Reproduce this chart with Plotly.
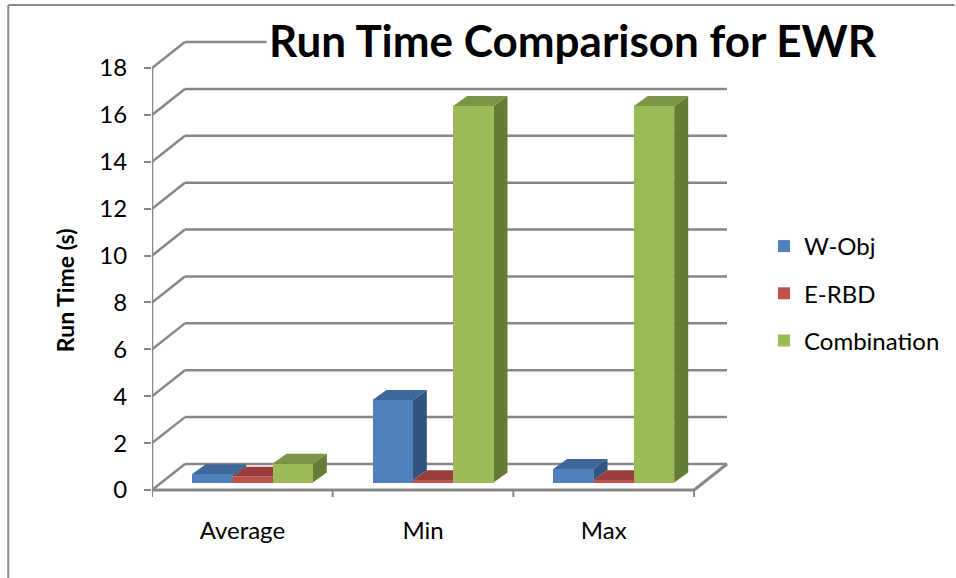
import plotly.graph_objects as go

# ---- data -------------------------------------------------------------
categories = ["Average", "Min", "Max"]
series_names = ["W-Obj", "E-RBD", "Combination"]
w_obj = [0.35, 3.52, 0.58]
e_rbd = [0.25, 0.10, 0.10]
combination = [0.80, 16.06, 16.06]
y_ticks = [0, 2, 4, 6, 8, 10, 12, 14, 16, 18]

series_values = [w_obj, e_rbd, combination]
front_colors = ["#4F81BD", "#C0504D", "#9BBB59"]
top_colors = ["#3D679A", "#9A3C3A", "#7A9545"]
side_colors = ["#32557F", "#7D302E", "#657C35"]

# ---- page / plot-area geometry (pixels) ------------------------------
FIG_W, FIG_H = 956, 578
PLOT_L, PLOT_T, PLOT_W, PLOT_H = 152, 30, 590, 470
PX_PER_CAT = 181.0          # horizontal pixels per category
PX_PER_UNIT = 23.44         # vertical pixels per second
FRONT_ZERO_PX = 490         # pixel row of the value 0 on the front plane

x_range = [-0.5, -0.5 + PLOT_W / PX_PER_CAT]
y_range = [-(PLOT_T + PLOT_H - FRONT_ZERO_PX) / PX_PER_UNIT,
           (FRONT_ZERO_PX - PLOT_T) / PX_PER_UNIT]

# oblique projection offsets (data units)
WALL_DX, WALL_DY = 33 / PX_PER_CAT, 26 / PX_PER_UNIT       # full chart depth
BAR_FX, BAR_FY = 10 / PX_PER_CAT, 7.5 / PX_PER_UNIT        # bar front face depth
BAR_DX, BAR_DY = 14 / PX_PER_CAT, 10 / PX_PER_UNIT         # bar thickness in depth
BAR_W = 40.4 / PX_PER_CAT

GRID = "#878787"
n_cat = len(categories)
x_left, x_right = -0.5, n_cat - 0.5

shapes = []


def seg(x0, y0, x1, y1, width=2.5, color=GRID):
    shapes.append(dict(type="line", xref="x", yref="y", x0=x0, y0=y0, x1=x1, y1=y1,
                       line=dict(color=color, width=width), layer="below"))


def poly(pts, color):
    path = "M " + " L ".join(f"{x},{y}" for x, y in pts) + " Z"
    shapes.append(dict(type="path", xref="x", yref="y", path=path,
                       fillcolor=color, line=dict(width=0), layer="below"))


# back wall gridlines and side wall diagonals
top_val = y_ticks[-1]
for v in y_ticks:
    seg(x_left + WALL_DX, v + WALL_DY, x_right + WALL_DX, v + WALL_DY)
    seg(x_left, v, x_left + WALL_DX, v + WALL_DY)

# front vertical axis line
seg(x_left, 0, x_left, top_val, width=2.5)

# floor front and right edges
seg(x_left, 0, x_right, 0, width=3)
seg(x_right, 0, x_right + WALL_DX, WALL_DY, width=3)

# category boundary ticks
for i in range(n_cat + 1):
    seg(x_left + i, 0, x_left + i, -0.3, width=2)

# bar centres on the front plane
n_ser = len(series_values)
centers = [[c + (k - (n_ser - 1) / 2) * BAR_W + BAR_FX for c in range(n_cat)]
           for k in range(n_ser)]

# side and top faces of each bar (front faces are drawn by the bar traces)
for c in range(n_cat):
    for k in range(n_ser):
        v = series_values[k][c]
        x0 = centers[k][c] - BAR_W / 2
        x1 = centers[k][c] + BAR_W / 2
        base = BAR_FY
        top = base + v
        # visible part of the right side face: above the neighbouring bar
        nxt = series_values[k + 1][c] if k + 1 < n_ser else 0.0
        if v > nxt:
            lo = base + nxt
            poly([(x1, lo), (x1 + BAR_DX, lo + BAR_DY),
                  (x1 + BAR_DX, top + BAR_DY), (x1, top)], side_colors[k])
        poly([(x0, top), (x1, top), (x1 + BAR_DX, top + BAR_DY),
              (x0 + BAR_DX, top + BAR_DY)], top_colors[k])

# outer chart frame (left and top edges)
fx0 = (8 - PLOT_L) / PLOT_W
fy_top = (PLOT_T + PLOT_H - 5) / PLOT_H
fy_bot = (PLOT_T + PLOT_H - FIG_H) / PLOT_H
shapes.append(dict(type="line", xref="paper", yref="paper", x0=fx0, x1=fx0,
                   y0=fy_bot, y1=fy_top, line=dict(color="#8C8C8C", width=2)))
shapes.append(dict(type="line", xref="paper", yref="paper", x0=fx0,
                   x1=(FIG_W - PLOT_L) / PLOT_W, y0=fy_top, y1=fy_top,
                   line=dict(color="#8C8C8C", width=2)))

fig = go.Figure()
for k in range(n_ser):
    fig.add_trace(go.Bar(
        x=centers[k], y=series_values[k], base=[BAR_FY] * n_cat,
        width=BAR_W, name=series_names[k], legendgroup=series_names[k],
        marker=dict(color=front_colors[k], line=dict(width=0)),
        hoverinfo="skip",
    ))

FONT = "Lato"
TXT = 24

fig.update_layout(
    width=FIG_W, height=FIG_H,
    margin=dict(l=PLOT_L, t=PLOT_T, r=FIG_W - PLOT_L - PLOT_W, b=FIG_H - PLOT_T - PLOT_H),
    paper_bgcolor="white", plot_bgcolor="white",
    barmode="overlay", bargap=0,
    font=dict(family=FONT, color="#000000", size=TXT),
    shapes=shapes,
    showlegend=True,
    legend=dict(x=(764 - PLOT_L) / PLOT_W, y=(PLOT_T + PLOT_H - 224) / PLOT_H,
                xanchor="left", yanchor="top", font=dict(size=TXT, family=FONT),
                tracegroupgap=13, bgcolor="rgba(0,0,0,0)"),
    xaxis=dict(range=x_range, showgrid=False, zeroline=False, showline=False,
               tickmode="array", tickvals=list(range(n_cat)), ticktext=categories,
               ticks="outside", ticklen=9, tickcolor="rgba(0,0,0,0)",
               tickfont=dict(size=TXT, family=FONT), fixedrange=True),
    yaxis=dict(range=y_range, showgrid=False, zeroline=False, showline=False,
               tickmode="array", tickvals=y_ticks, ticktext=[str(t) for t in y_ticks],
               ticks="outside", ticklen=7, tickwidth=2, tickcolor=GRID,
               ticklabelstandoff=12,
               tickfont=dict(size=TXT, family=FONT), fixedrange=True),
    annotations=[
        dict(text="<b>Run Time Comparison for EWR</b>", xref="paper", yref="paper",
             x=(266 - PLOT_L) / PLOT_W, y=(PLOT_T + PLOT_H - 40) / PLOT_H,
             xanchor="left", yanchor="middle", showarrow=False,
             font=dict(size=44, family=FONT, color="#000000"),
             bgcolor="white", borderpad=2),
        dict(text="<b>Run Time (s)</b>", xref="paper", yref="paper",
             x=(65 - PLOT_L) / PLOT_W, y=(PLOT_T + PLOT_H - 290) / PLOT_H,
             xanchor="center", yanchor="middle", textangle=-90, showarrow=False,
             font=dict(size=23, family=FONT, color="#000000")),
    ],
)

fig.write_html("out.html")
